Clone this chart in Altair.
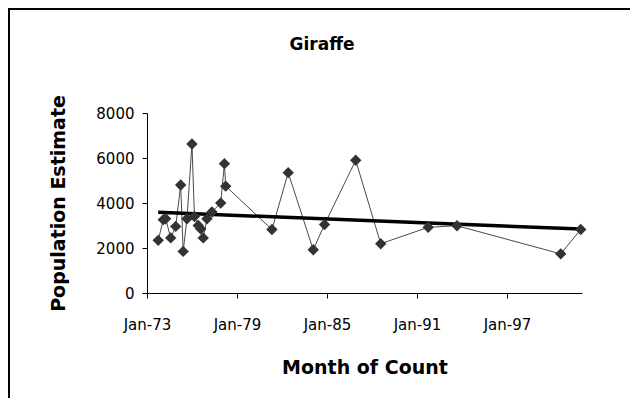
import altair as alt
import pandas as pd

# Giraffe population counts (month of count, estimate)
count_dates = [
    "1973-10-01", "1974-02-01", "1974-04-01", "1974-08-01", "1974-12-01",
    "1975-04-01", "1975-06-01", "1975-09-01", "1976-01-01", "1976-03-01",
    "1976-06-01", "1976-08-01", "1976-10-01", "1977-01-01", "1977-05-01",
    "1977-12-01", "1978-03-01", "1978-04-01", "1981-05-01", "1982-06-01",
    "1984-02-01", "1984-11-01", "1986-12-01", "1988-08-01", "1991-10-01",
    "1993-09-01", "2000-08-01", "2001-12-01",
]
population = [
    2340, 3260, 3300, 2450, 2960,
    4800, 1850, 3300, 6620, 3400,
    3000, 2850, 2450, 3300, 3600,
    4000, 5750, 4750, 2820, 5350,
    1920, 3040, 5900, 2190, 2920,
    2990, 1740, 2820,
]

# Linear trend line end points as drawn
trend_dates = ["1973-10-01", "2001-12-01"]
trend_values = [3590, 2840]

y_ticks = [0, 2000, 4000, 6000, 8000]
x_tick_years = [1973, 1979, 1985, 1991, 1997]
chart_title = ["Giraffe"]

df = pd.DataFrame({"date": count_dates, "pop": population})
tdf = pd.DataFrame({"date": trend_dates, "pop": trend_values})
title_df = pd.DataFrame({"t": chart_title})

W, H = 435, 180
PAD_L, PAD_T, PAD_R, PAD_B = 139, 105, 48, 105
FONT = "DejaVu Sans"

x_scale = alt.Scale(domain=[alt.DateTime(year=1973, month=1, date=1),
                            alt.DateTime(year=2002, month=1, date=1)])
y_scale = alt.Scale(domain=[0, 8000])

x_axis = alt.Axis(
    title="Month of Count", format="%b-%y",
    values=[alt.DateTime(year=y, month=1, date=1) for y in x_tick_years],
    grid=False, domainColor="black", tickColor="black", tickSize=5,
    labelFont=FONT, labelFontSize=15, labelColor="black",
    labelPadding=19, labelFlush=False,
    titleFont=FONT, titleFontSize=19, titleFontWeight="bold",
    titleColor="black", titleY=74, titleBaseline="middle",
)
y_axis = alt.Axis(
    title="Population Estimate", values=y_ticks, format="d",
    grid=False, domainColor="black", tickColor="black", tickSize=5,
    labelFont=FONT, labelFontSize=15, labelColor="black",
    labelPadding=8,
    titleFont=FONT, titleFontSize=19, titleFontWeight="bold",
    titleColor="black", titleX=-89, titleBaseline="middle",
)

base = alt.Chart(df)

line = base.mark_line(color="#4a4a4a", strokeWidth=1).encode(
    x=alt.X("date:T", scale=x_scale, axis=x_axis),
    y=alt.Y("pop:Q", scale=y_scale, axis=y_axis),
)
points = base.mark_point(shape="diamond", filled=True, color="#333333",
                         size=130, opacity=1).encode(
    x=alt.X("date:T", scale=x_scale),
    y=alt.Y("pop:Q", scale=y_scale),
)
trend = alt.Chart(tdf).mark_line(color="black", strokeWidth=3.5).encode(
    x=alt.X("date:T", scale=x_scale),
    y=alt.Y("pop:Q", scale=y_scale),
)

title = alt.Chart(title_df).mark_text(
    font=FONT, fontSize=17, fontWeight="bold", color="black",
    align="center", baseline="middle",
).encode(text="t:N", x=alt.value(175), y=alt.value(-68))

frame_left = alt.Chart(df).mark_rule(color="black", strokeWidth=2).encode(
    x=alt.value(-138), y=alt.value(-105), y2=alt.value(H + PAD_B))
frame_top = alt.Chart(df).mark_rule(color="black", strokeWidth=2).encode(
    x=alt.value(-139), x2=alt.value(W + PAD_R), y=alt.value(-104))

chart = alt.layer(frame_left, frame_top, line, trend, points, title).properties(
    width=W, height=H,
    autosize=alt.AutoSizeParams(type="none"),
    padding={"left": PAD_L, "top": PAD_T, "right": PAD_R, "bottom": PAD_B},
).configure(
    background="white",
    view=alt.ViewConfig(stroke="transparent", strokeWidth=0),
)

chart.save("out.html", embed_options={"renderer": "svg", "actions": False})
